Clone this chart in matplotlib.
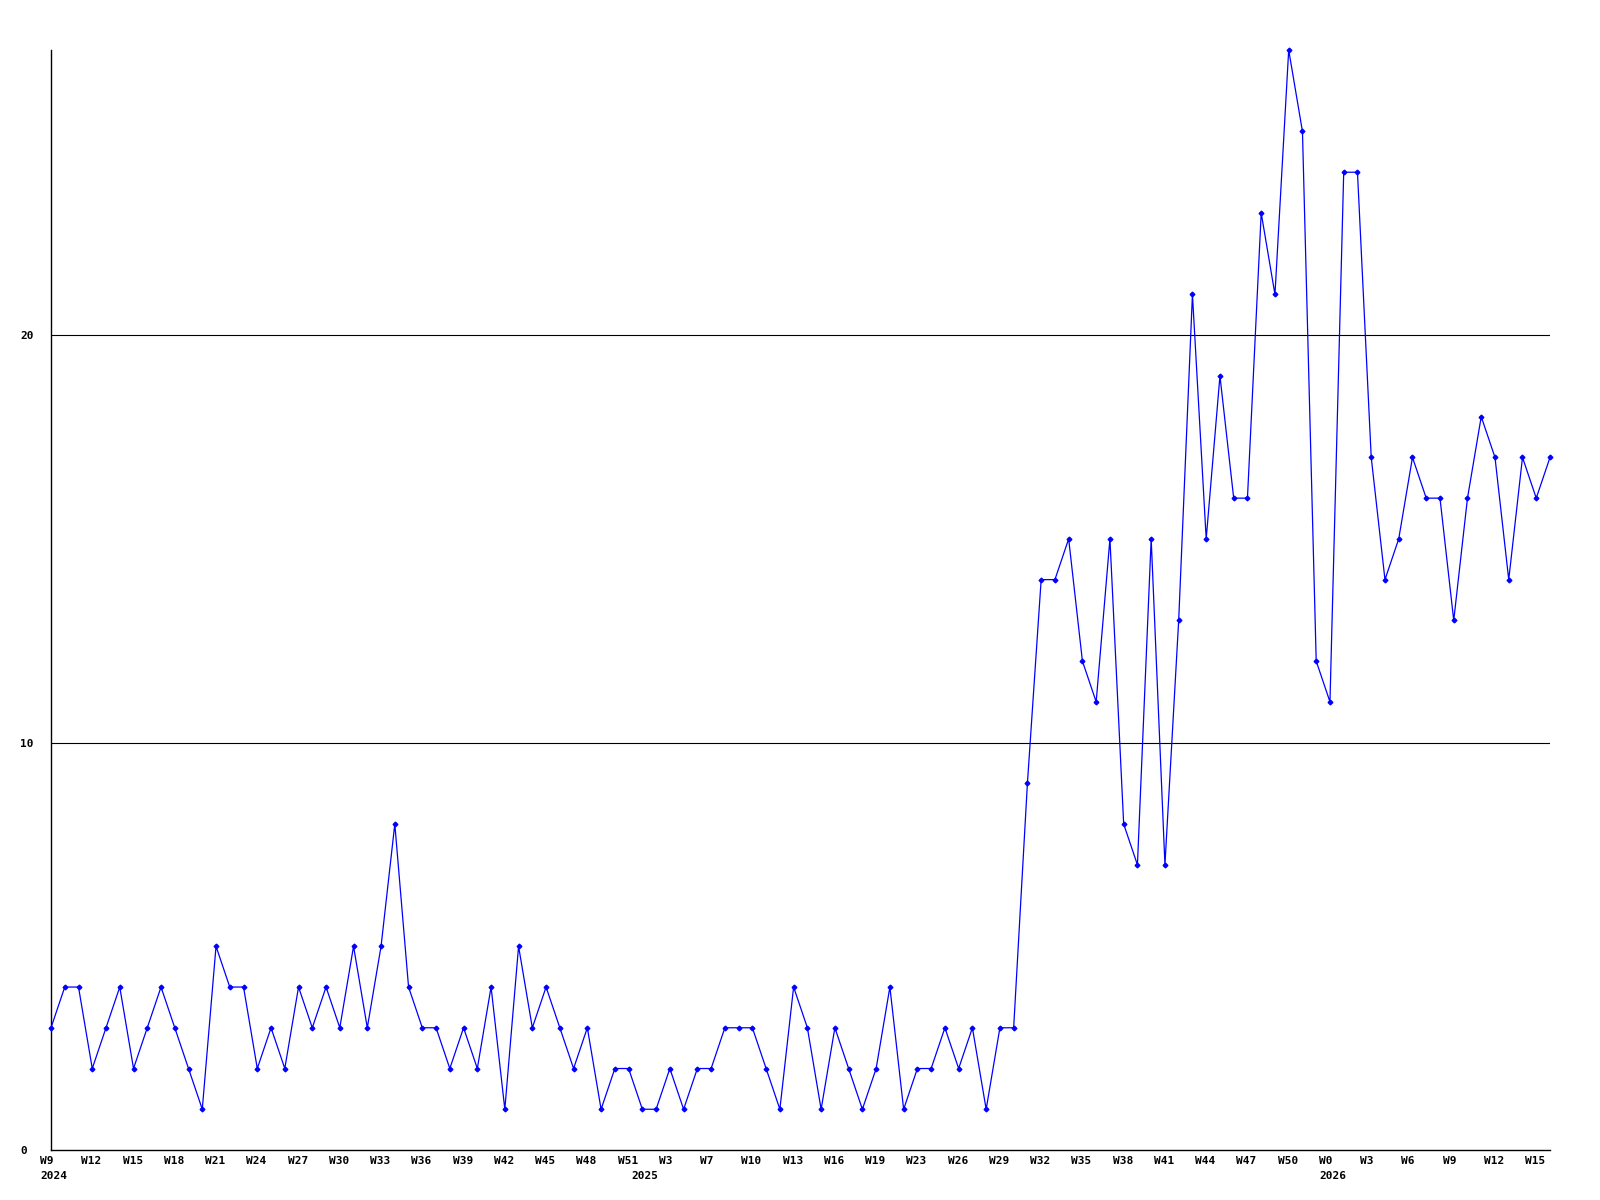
import matplotlib
matplotlib.use("Agg")
import matplotlib.pyplot as plt
from matplotlib.transforms import ScaledTranslation

# weekly counts, one value per week
values = [3, 4, 4, 2, 3, 4, 2, 3, 4, 3,
          2, 1, 5, 4, 4, 2, 3, 2, 4, 3,
          4, 3, 5, 3, 5, 8, 4, 3, 3, 2,
          3, 2, 4, 1, 5, 3, 4, 3, 2, 3,
          1, 2, 2, 1, 1, 2, 1, 2, 2, 3,
          3, 3, 2, 1, 4, 3, 1, 3, 2, 1,
          2, 4, 1, 2, 2, 3, 2, 3, 1, 3,
          3, 9, 14, 14, 15, 12, 11, 15, 8, 7,
          15, 7, 13, 21, 15, 19, 16, 16, 23, 21,
          27, 25, 12, 11, 24, 24, 17, 14, 15, 17,
          16, 16, 13, 16, 18, 17, 14, 17, 16, 17]

week_labels = ["W9", "W12", "W15", "W18", "W21", "W24", "W27", "W30", "W33",
               "W36", "W39", "W42", "W45", "W48", "W51", "W3", "W7", "W10",
               "W13", "W16", "W19", "W23", "W26", "W29", "W32", "W35", "W38",
               "W41", "W44", "W47", "W50", "W0", "W3", "W6", "W9", "W12", "W15"]
label_step = 3
year_pos = [0, 43, 93]
year_labels = ["2024", "2025", "2026"]
y_ticks = [0, 10, 20]

plt.rcParams['font.family'] = ['DejaVu Sans Mono']
plt.rcParams['font.weight'] = 'bold'

fig = plt.figure(figsize=(16, 12), dpi=100)
ax = fig.add_axes([51 / 1600, 50 / 1200, 1499 / 1600, 1100 / 1200])

x = list(range(len(values)))
ax.plot(x, values, color=(0, 0, 1), lw=0.9, marker='D', markersize=2.4,
        clip_on=False, zorder=3)

ax.set_xlim(0, len(values) - 1)
ax.set_ylim(0, 27)

for v in y_ticks[1:]:
    ax.axhline(v, color='black', lw=0.8, zorder=1)

for s in ['top', 'right']:
    ax.spines[s].set_visible(False)
for s in ['left', 'bottom']:
    ax.spines[s].set_linewidth(1.0)

# week labels, left aligned a little before their point
shift = ScaledTranslation(-11 / 100, 0, fig.dpi_scale_trans)
ax.set_xticks([i * label_step for i in range(len(week_labels))])
ax.set_xticklabels(week_labels, fontsize=8, fontweight='bold')
ax.tick_params(axis='x', length=0, pad=4)
for lab in ax.get_xticklabels():
    lab.set_ha('left')
    lab.set_transform(lab.get_transform() + shift)

# year labels on a second row
year_shift = ScaledTranslation(-11 / 100, -21 / 100, fig.dpi_scale_trans)
for p, yr in zip(year_pos, year_labels):
    ax.text(p, 0, yr, transform=ax.get_xaxis_transform() + year_shift,
            fontsize=8, fontweight='bold', ha='left', va='top', clip_on=False)

ax.set_yticks(y_ticks)
ax.set_yticklabels([str(v) for v in y_ticks], fontsize=8, fontweight='bold')
ax.tick_params(axis='y', length=0, pad=22)
for lab in ax.get_yticklabels():
    lab.set_ha('left')

fig.savefig("out.png", dpi=100)
